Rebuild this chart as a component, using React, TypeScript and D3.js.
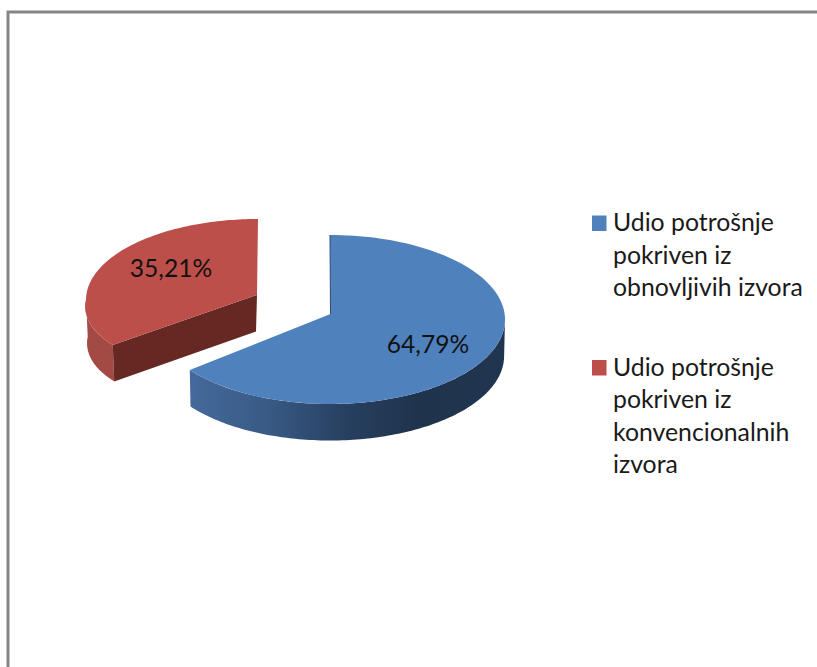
import React from "react";
import * as d3 from "d3";

const seriesNames = ["Udio potrošnje pokriven iz obnovljivih izvora", "Udio potrošnje pokriven iz konvencionalnih izvora"];
const seriesValues = [64.79, 35.21];
const valueLabels = ["64,79%", "35,21%"];
const legendLines = [
    ["Udio potrošnje", "pokriven iz", "obnovljivih izvora"],
    ["Udio potrošnje", "pokriven iz", "konvencionalnih", "izvora"],
];
const topColors = ["#4f81bd", "#bd4f4b"];

const width = 817;
const height = 667;
const depth = 36.5;
const fontFamily = "Lato, 'Noto Sans', sans-serif";

// each slice is pulled out and has its own squashed ellipse, to fake the 3D look.
// k and ryNear bend the half nearest the viewer, shrink narrows the bottom rim
const slices = [
    { apexX: 330.5, apexY: 314, cx: 330, cy: 319.5, rx: 175, ry: 84.5, ryNear: 84.5, k: 0, shrink: 0.995 },
    { apexX: 257, apexY: 295, cx: 258, cy: 300, rx: 172, ry: 81, ryNear: 75, k: 0.09, shrink: 0.99 },
];
type Slice = (typeof slices)[number];

const arcs = d3.pie<number>().sort(null)(seriesValues);

const project = (g: Slice, a: number): [number, number] => {
    const c = Math.cos(a);
    return [
        g.cx + g.rx * Math.sin(a) * (1 + g.k * Math.max(0, -c)),
        g.cy - (c < 0 ? g.ryNear : g.ry) * c,
    ];
};

const projectBottom = (g: Slice, a: number): [number, number] => {
    const [x, y] = project(g, a);
    return [g.cx + (x - g.cx) * g.shrink, y + depth];
};

const line = d3.line<[number, number]>();

const steps = d3.range(0, 121).map((i) => i / 120);
const angles = (a0: number, a1: number) => steps.map((t) => a0 + (a1 - a0) * t);

const topPath = (i: number) => {
    const g = slices[i];
    return line([
        [g.apexX, g.apexY],
        ...angles(arcs[i].startAngle, arcs[i].endAngle).map((a) => project(g, a)),
    ]) + "Z";
};

// outer wall, only the part of the rim that faces the viewer
const wallPath = (i: number, a0: number, a1: number) => {
    const g = slices[i];
    return line([
        ...angles(a0, a1).map((a) => project(g, a)),
        ...angles(a1, a0).map((a) => projectBottom(g, a)),
    ]) + "Z";
};

const innerWallPath = (i: number) => {
    const g = slices[i];
    const a = arcs[i].startAngle;
    return line([
        [g.apexX, g.apexY],
        project(g, a),
        projectBottom(g, a),
        [g.apexX - 1, g.apexY + depth],
    ]) + "Z";
};

const App = () => {
    const blueEnd = arcs[0].endAngle;
    const blueEdge = project(slices[0], 0);
    return (
        <svg
            width={width}
            height={height}
            style={{ position: "absolute", left: 0, top: 0, background: "#fff" }}
        >
            <defs>
                <linearGradient id="blueWall" gradientUnits="userSpaceOnUse" x1={190} x2={505} y1={0} y2={0}>
                    <stop offset="0" stopColor="#44699b" />
                    <stop offset="0.25" stopColor="#385a84" />
                    <stop offset="0.5" stopColor="#273f60" />
                    <stop offset="0.72" stopColor="#1f334c" />
                    <stop offset="1" stopColor="#20354f" />
                </linearGradient>
            </defs>

            <path d={`M8,${height}V12H${width}`} fill="none" stroke="#868686" strokeWidth={3} />

            {/* red slice */}
            <path d={wallPath(1, arcs[1].startAngle, Math.PI * 1.5)} fill="#a34a45" />
            <path d={innerWallPath(1)} fill="#652822" />
            <path d={topPath(1)} fill={topColors[1]} />

            {/* blue slice */}
            <path d={wallPath(0, Math.PI / 2, blueEnd)} fill="url(#blueWall)" />
            <path d={topPath(0)} fill={topColors[0]} />
            <line
                x1={blueEdge[0]}
                y1={blueEdge[1]}
                x2={slices[0].apexX}
                y2={slices[0].apexY}
                stroke="#2d4a6e"
                strokeWidth={1}
            />

            <g fontFamily={fontFamily} fontSize={24.6} fill="#111">
                <text x={428} y={353} textAnchor="middle">{valueLabels[0]}</text>
                <text x={171} y={277} textAnchor="middle">{valueLabels[1]}</text>
            </g>

            {seriesNames.map((name, i) => {
                const top = i === 0 ? 231 : 375.5;
                return (
                    <g key={name}>
                        <title>{name}</title>
                        <rect x={592} y={top - 15.5} width={14.5} height={15.5} fill={topColors[i]} />
                        <text fontFamily={fontFamily} fontSize={24.8} fill="#1a1a1a">
                            {legendLines[i].map((t, j) => (
                                <tspan key={j} x={613} y={top + j * 32.5}>{t}</tspan>
                            ))}
                        </text>
                    </g>
                );
            })}
        </svg>
    );
};

export default App;
